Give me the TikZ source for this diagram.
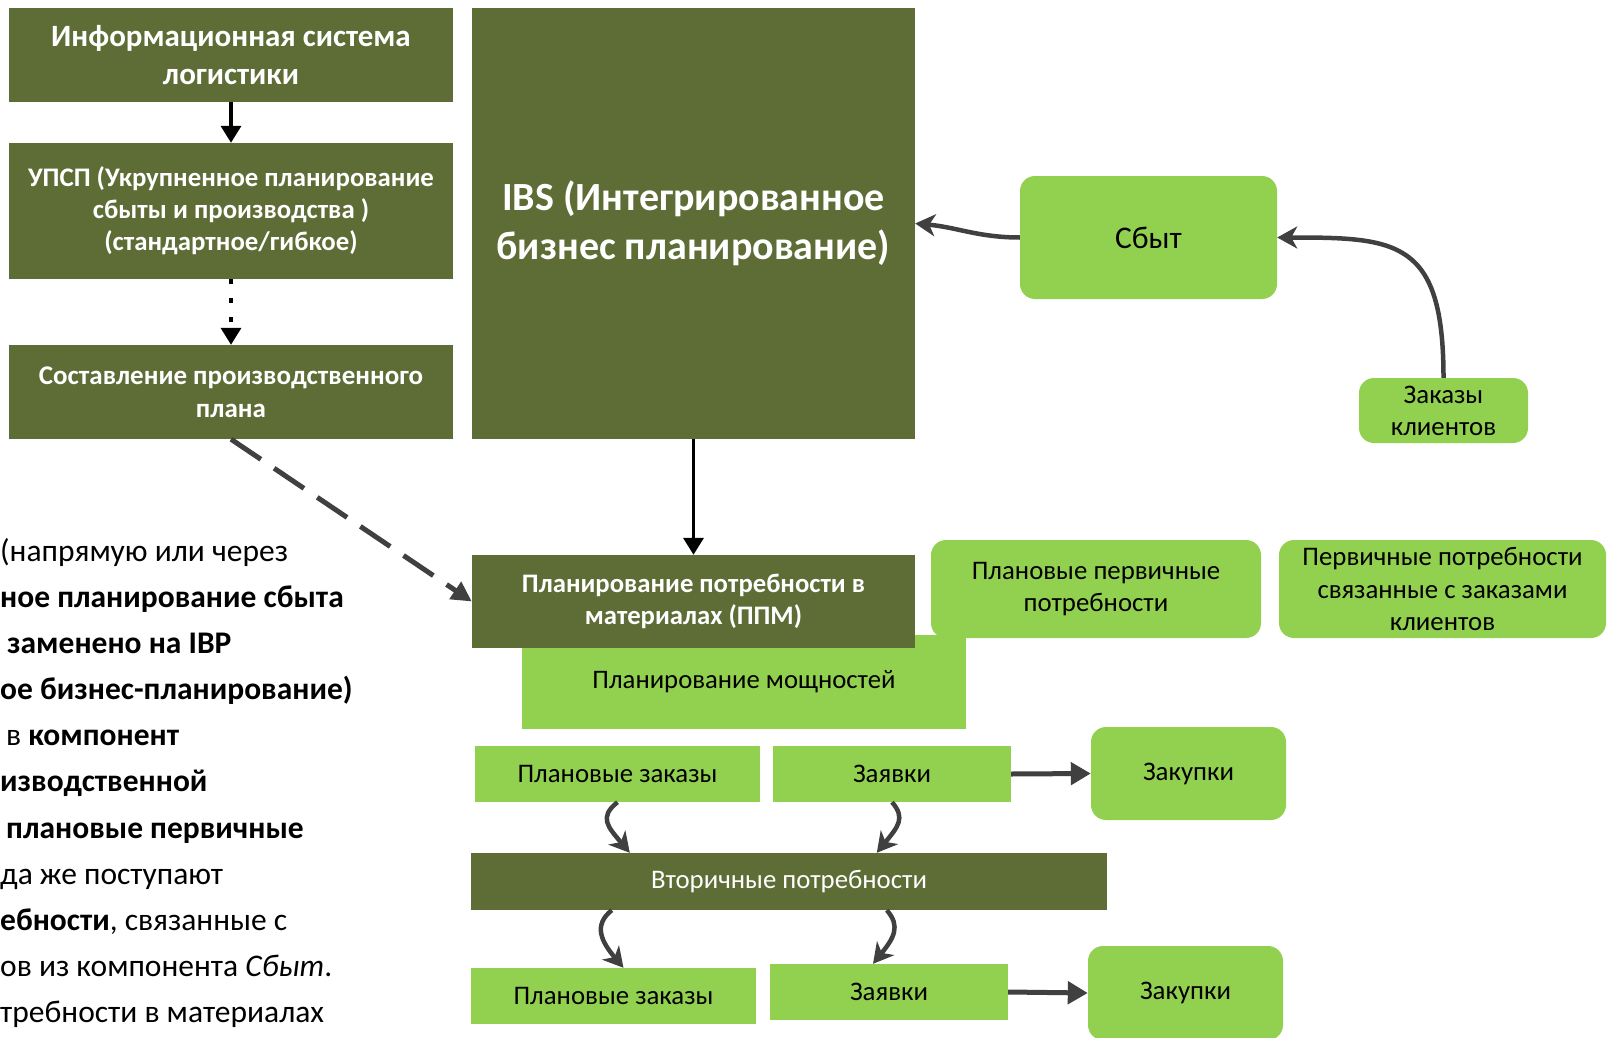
\documentclass[tikz,border=0pt]{standalone}
\usepackage{fontspec}
\setmainfont{Carlito}
\usetikzlibrary{arrows.meta,calc}
\definecolor{olivebox}{RGB}{94,108,54}
\definecolor{lightbox}{RGB}{146,208,80}
\definecolor{arrowgray}{RGB}{64,64,64}
\begin{document}
\begin{tikzpicture}[x=1pt, y=-1pt,
    dark/.style={fill=olivebox, text=white, inner sep=0pt, align=center},
    light/.style={fill=lightbox, text=black, inner sep=0pt, align=center},
    roundlight/.style={light, rounded corners=15pt},
    blackarrow/.style={-{Triangle[length=17pt,width=20pt]}, line width=3.5pt, black},
    grayarrow/.style={-{Stealth[length=20pt,width=22pt,inset=6pt]}, line width=4.5pt, arrowgray},
    straightarrow/.style={-{Triangle[length=20pt,width=22pt]}, line width=5pt, arrowgray},
    bodytext/.style={inner sep=0pt, text=black, font=\fontsize{31.5}{38}\selectfont}]
    \useasboundingbox (0,0) rectangle (1608,1038);
    \node[dark, minimum width=444pt, minimum height=94pt, font=\fontsize{31}{38}\selectfont\bfseries] (info) at (231,55) {Информационная система\\логистики};
    \node[dark, minimum width=444pt, minimum height=136pt, font=\fontsize{26.8}{32}\selectfont\bfseries] (upsp) at (231,211) {УПСП (Укрупненное планирование\\сбыты и производства )\\(стандартное/гибкое)};
    \node[dark, minimum width=444pt, minimum height=94pt, font=\fontsize{27}{33}\selectfont\bfseries] (sost) at (231,392) {Составление производственного\\плана};
    \node[dark, minimum width=443pt, minimum height=431pt, font=\fontsize{40}{49}\selectfont\bfseries] (ibs) at (693.5,223.5) {IBS (Интегрированное\\бизнес планирование)};
    \node[roundlight, minimum width=257pt, minimum height=123pt, font=\fontsize{31.5}{36}\selectfont] (sbyt) at (1148.5,237.5) {Сбыт};
    \node[roundlight, minimum width=169pt, minimum height=65pt, font=\fontsize{26.8}{32}\selectfont] (zakkl) at (1443.5,410.5) {Заказы\\клиентов};
    \node[light, minimum width=444pt, minimum height=94pt, font=\fontsize{26.7}{30}\selectfont] (mosch) at (744,682) {Планирование мощностей};
    \node[dark, minimum width=443pt, minimum height=93pt, font=\fontsize{26.7}{32}\selectfont\bfseries] (ppm) at (693.5,601.5) {Планирование потребности в\\материалах (ППМ)};
    \node[roundlight, minimum width=330pt, minimum height=98pt, font=\fontsize{26.8}{32}\selectfont] (planperv) at (1096,589) {Плановые первичные\\потребности};
    \node[roundlight, minimum width=327pt, minimum height=98pt, font=\fontsize{26.8}{32.5}\selectfont] (perv) at (1442.5,589) {Первичные потребности\\связанные с заказами\\клиентов};
    \node[light, minimum width=285pt, minimum height=56pt, font=\fontsize{26.8}{30}\selectfont] (pz1) at (617.5,774) {Плановые заказы};
    \node[light, minimum width=238pt, minimum height=56pt, font=\fontsize{26.8}{30}\selectfont] (zv1) at (892,774) {Заявки};
    \node[roundlight, minimum width=195pt, minimum height=93pt, font=\fontsize{26.8}{30}\selectfont] (zk1) at (1188.5,773.5) {Закупки};
    \node[dark, minimum width=636pt, minimum height=57pt, font=\fontsize{26.8}{30}\selectfont] (vtor) at (789,881.5) {Вторичные потребности};
    \node[light, minimum width=285pt, minimum height=56pt, font=\fontsize{26.8}{30}\selectfont] (pz2) at (613.5,996) {Плановые заказы};
    \node[light, minimum width=238pt, minimum height=56pt, font=\fontsize{26.8}{30}\selectfont] (zv2) at (889,992) {Заявки};
    \node[roundlight, minimum width=195pt, minimum height=94pt, font=\fontsize{26.8}{30}\selectfont] (zk2) at (1185.5,993) {Закупки};

    \foreach \i/\ypos/\xpos/\txt in {
        1/559/0/{(напрямую или через},
        2/605/0/{\textbf{ное планирование сбыта}},
        3/651/7/{\textbf{заменено на IBP}},
        4/697/0/{\textbf{ое бизнес-планирование)}},
        5/743/6/{в \textbf{компонент}},
        6/789/0/{\textbf{изводственной}},
        7/836/6/{\textbf{плановые первичные}},
        8/882/0/{да же поступают},
        9/928/0/{\textbf{ебности}, связанные с},
        10/974/0/{ов из компонента \textit{Сбыт}.},
        11/1020/0/{требности в материалах}}{
        \node[bodytext, anchor=mid west] (t\i) at (\xpos,\ypos) {\txt};
    }

    \draw[blackarrow] (info.south) -- (upsp.north);
    \draw[blackarrow, dash pattern=on 5pt off 14pt] (upsp.south) -- (sost.north);
    \draw[-{Triangle[length=20pt,width=20pt]}, line width=5pt, arrowgray, dash pattern=on 36pt off 16pt] (sost.south) -- (ppm.west);
    \draw[blackarrow] (ibs.south) -- (ppm.north);
    \draw[grayarrow] (sbyt.west) to[out=180,in=-5] (ibs.east);
    \draw[grayarrow] (zakkl.north) .. controls +(0,-138) and +(120,0) .. (sbyt.east);
    \draw[straightarrow] (zv1.east) -- (zk1.west);
    \draw[straightarrow] (zv2.east) -- (zk2.west);
    \draw[grayarrow] (pz1.south) .. controls +(-19,15) and +(-22,-26) .. ($(vtor.north west)+(159,0)$);
    \draw[grayarrow] (zv1.south) .. controls +(14,16) and +(21,-26) .. ($(vtor.north west)+(406,0)$);
    \draw[grayarrow] ($(vtor.south west)+(141,0)$) .. controls +(-19,15) and +(-22,-26) .. ($(pz2.north)+(10,0)$);
    \draw[grayarrow] ($(vtor.south west)+(416,0)$) .. controls +(14,16) and +(21,-26) .. ($(zv2.north)+(-16,0)$);
\end{tikzpicture}
\end{document}
